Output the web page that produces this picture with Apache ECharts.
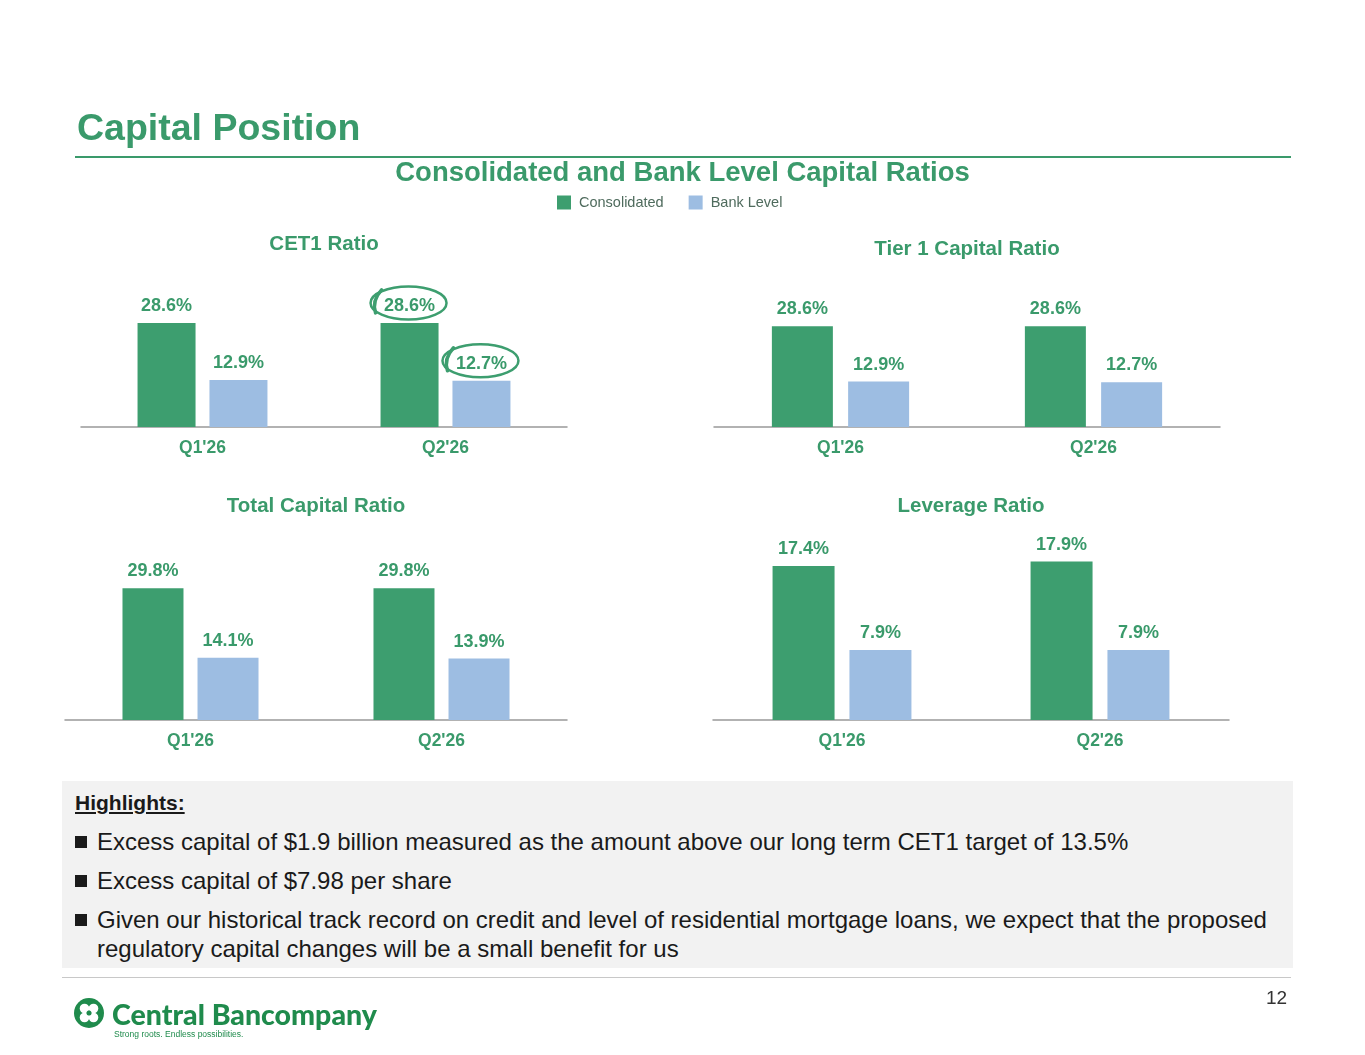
<!DOCTYPE html>
<html><head><meta charset="utf-8">
<script src="https://cdn.jsdelivr.net/npm/echarts@6/dist/echarts.min.js"></script>
<style>
html,body{margin:0;padding:0;background:#fff;font-family:"Liberation Sans",Arial,sans-serif;}
#page{position:relative;width:1365px;height:1055px;overflow:hidden;}
#chart{position:absolute;left:0;top:0;width:1365px;height:1055px;}
.abs{position:absolute;}
#title{left:77px;top:106px;font-size:37.5px;font-weight:bold;color:#3a9a6b;}
#rule{left:75px;top:156px;width:1216px;height:2px;background:#3a9a6b;}
#hl{left:62px;top:781px;width:1231px;height:187px;background:#f2f2f2;}
#hl .h{position:absolute;left:13px;top:10px;font-size:21px;font-weight:bold;text-decoration:underline;color:#1a1a1a;}
#hl .b{position:absolute;left:13px;font-size:24px;color:#1a1a1a;line-height:29px;white-space:nowrap;}
#hl .b span.q{display:inline-block;width:12px;height:12px;background:#1a1a1a;margin:9px 10px 0 0;vertical-align:top;}
#hl .b span.t{display:inline-block;vertical-align:top;}
#bline{left:62px;top:977px;width:1229px;height:1px;background:#c8c8c8;}
#pg{left:1266px;top:987px;font-size:19px;color:#333;}
#logo{left:74px;top:997px;}
</style></head>
<body><div id="page">
<div id="chart"></div>
<div id="title" class="abs">Capital Position</div>
<div id="rule" class="abs"></div>
<div id="hl" class="abs">
  <div class="h">Highlights:</div>
  <div class="b" style="top:46px"><span class="q"></span><span class="t">Excess capital of $1.9 billion measured as the amount above our long term CET1 target of 13.5%</span></div>
  <div class="b" style="top:85px"><span class="q"></span><span class="t">Excess capital of $7.98 per share</span></div>
  <div class="b" style="top:124px"><span class="q"></span><span class="t">Given our historical track record on credit and level of residential mortgage loans, we expect that the proposed<br>regulatory capital changes will be a small benefit for us</span></div>
</div>
<div id="bline" class="abs"></div>
<div id="pg" class="abs">12</div>
<div id="logo" class="abs">
  <svg width="320" height="42" viewBox="0 0 320 42">
    <circle cx="15" cy="16" r="15" fill="#1f8b4c"/>
    <circle cx="10.5" cy="11.5" r="4.8" fill="#fff"/>
    <circle cx="19.5" cy="11.5" r="4.8" fill="#fff"/>
    <circle cx="10.5" cy="20.5" r="4.8" fill="#fff"/>
    <circle cx="19.5" cy="20.5" r="4.8" fill="#fff"/>
    <circle cx="15" cy="16" r="2.5" fill="#1f8b4c"/>
    <text x="38" y="28" font-family="Lato,'Liberation Sans',sans-serif" font-weight="900" font-size="28.5" fill="#1f8b4c">Central Bancompany</text>
    <text x="40" y="40" font-family="'Liberation Sans',sans-serif" font-size="8.5" fill="#1f8b4c">Strong roots. Endless possibilities.</text>
  </svg>
</div>
</div>
<script>
var categories = ["Q1'26", "Q2'26"];
var seriesNames = ["Consolidated", "Bank Level"];
var panelTitles = ["CET1 Ratio", "Tier 1 Capital Ratio", "Total Capital Ratio", "Leverage Ratio"];
var consolidated = {
  cet1: [28.6, 28.6],
  tier1: [28.6, 28.6],
  total: [29.8, 29.8],
  leverage: [17.4, 17.9]
};
var bankLevel = {
  cet1: [12.9, 12.7],
  tier1: [12.9, 12.7],
  total: [14.1, 13.9],
  leverage: [7.9, 7.9]
};
var panelKeys = ["cet1", "tier1", "total", "leverage"];

var GREEN = '#3d9e6f', BLUE = '#9dbde2', TXT = '#3a9a6b';
var layout = [
  {left: 81, width: 486, base: 427, ppu: 3.64, max: 40, bw: 58, gap: '24%', ty: 243},
  {left: 714, width: 506, base: 427, ppu: 3.52, max: 40, bw: 61, gap: '25%', ty: 248},
  {left: 65, width: 502, base: 720, ppu: 4.42, max: 40, bw: 61, gap: '23%', ty: 505},
  {left: 713, width: 516, base: 720, ppu: 8.85, max: 20, bw: 62, gap: '24%', ty: 505}
];

var grids = [], xAxes = [], yAxes = [], series = [], titles = [];
titles.push({text: 'Consolidated and Bank Level Capital Ratios', left: 'center', top: 159, padding: 0,
  textStyle: {fontFamily: 'Liberation Sans', fontSize: 27.5, fontWeight: 'bold', color: TXT}});
layout.forEach(function (L, i) {
  var h = L.max * L.ppu;
  grids.push({left: L.left, width: L.width, top: L.base - h, height: h, containLabel: false});
  xAxes.push({type: 'category', gridIndex: i, data: categories,
    axisLine: {lineStyle: {color: '#999', width: 1.5}}, axisTick: {show: false},
    axisLabel: {margin: 12, fontFamily: 'Liberation Sans', fontSize: 17.5, fontWeight: 'bold', color: TXT}});
  yAxes.push({type: 'value', gridIndex: i, min: 0, max: L.max, show: false, splitLine: {show: false}});
  var k = panelKeys[i];
  var lbl = {show: true, position: 'top', distance: 8, fontFamily: 'Liberation Sans', fontSize: 18,
    fontWeight: 'bold', color: TXT, formatter: function (p) { return p.value.toFixed(1) + '%'; }};
  series.push({name: seriesNames[0], type: 'bar', xAxisIndex: i, yAxisIndex: i, data: consolidated[k],
    barWidth: L.bw, barGap: L.gap, itemStyle: {color: GREEN}, label: lbl, silent: true});
  series.push({name: seriesNames[1], type: 'bar', xAxisIndex: i, yAxisIndex: i, data: bankLevel[k],
    barWidth: L.bw, barGap: L.gap, itemStyle: {color: BLUE}, label: lbl, silent: true});
  titles.push({text: panelTitles[i], left: L.left + L.width / 2, top: L.ty - 9, textAlign: 'center', padding: 0,
    textStyle: {fontFamily: 'Liberation Sans', fontSize: 20.5, fontWeight: 'bold', color: TXT}});
});

var chart = echarts.init(document.getElementById('chart'), null, {renderer: 'canvas'});
chart.setOption({
  animation: false,
  title: titles,
  legend: {data: seriesNames, top: 195, left: 557, padding: 0, itemWidth: 14, itemHeight: 14, itemGap: 25,
    icon: 'rect', textStyle: {fontFamily: 'Liberation Sans', fontSize: 14.5, color: '#4f6b5d', padding: [0, 0, 0, 3]}},
  grid: grids, xAxis: xAxes, yAxis: yAxes, series: series
});

// annotation rings around the Q2'26 CET1 labels
function ringAt(seriesIdx, value) {
  var L = layout[0];
  var p = chart.convertToPixel({seriesIndex: seriesIdx}, [1, value]);
  var off = seriesIdx === 0 ? -(L.bw / 2 + L.bw * 0.12) : (L.bw / 2 + L.bw * 0.12);
  var cx = p[0] + off - 1, cy = p[1] - 20;
  return [
    {type: 'ellipse', shape: {cx: cx, cy: cy, rx: 38, ry: 16.5}, style: {fill: 'none', stroke: GREEN, lineWidth: 2.5}, silent: true},
    {type: 'bezierCurve', shape: {x1: cx - 27, y1: cy - 13, cpx1: cx - 37, cpy1: cy - 2, x2: cx - 33, y2: cy + 10}, style: {fill: 'none', stroke: GREEN, lineWidth: 3.5, lineCap: 'round'}, silent: true}
  ];
}
var g = [].concat(ringAt(0, consolidated.cet1[1])).concat(ringAt(1, bankLevel.cet1[1]));
chart.setOption({graphic: g});
</script>
</body></html>
